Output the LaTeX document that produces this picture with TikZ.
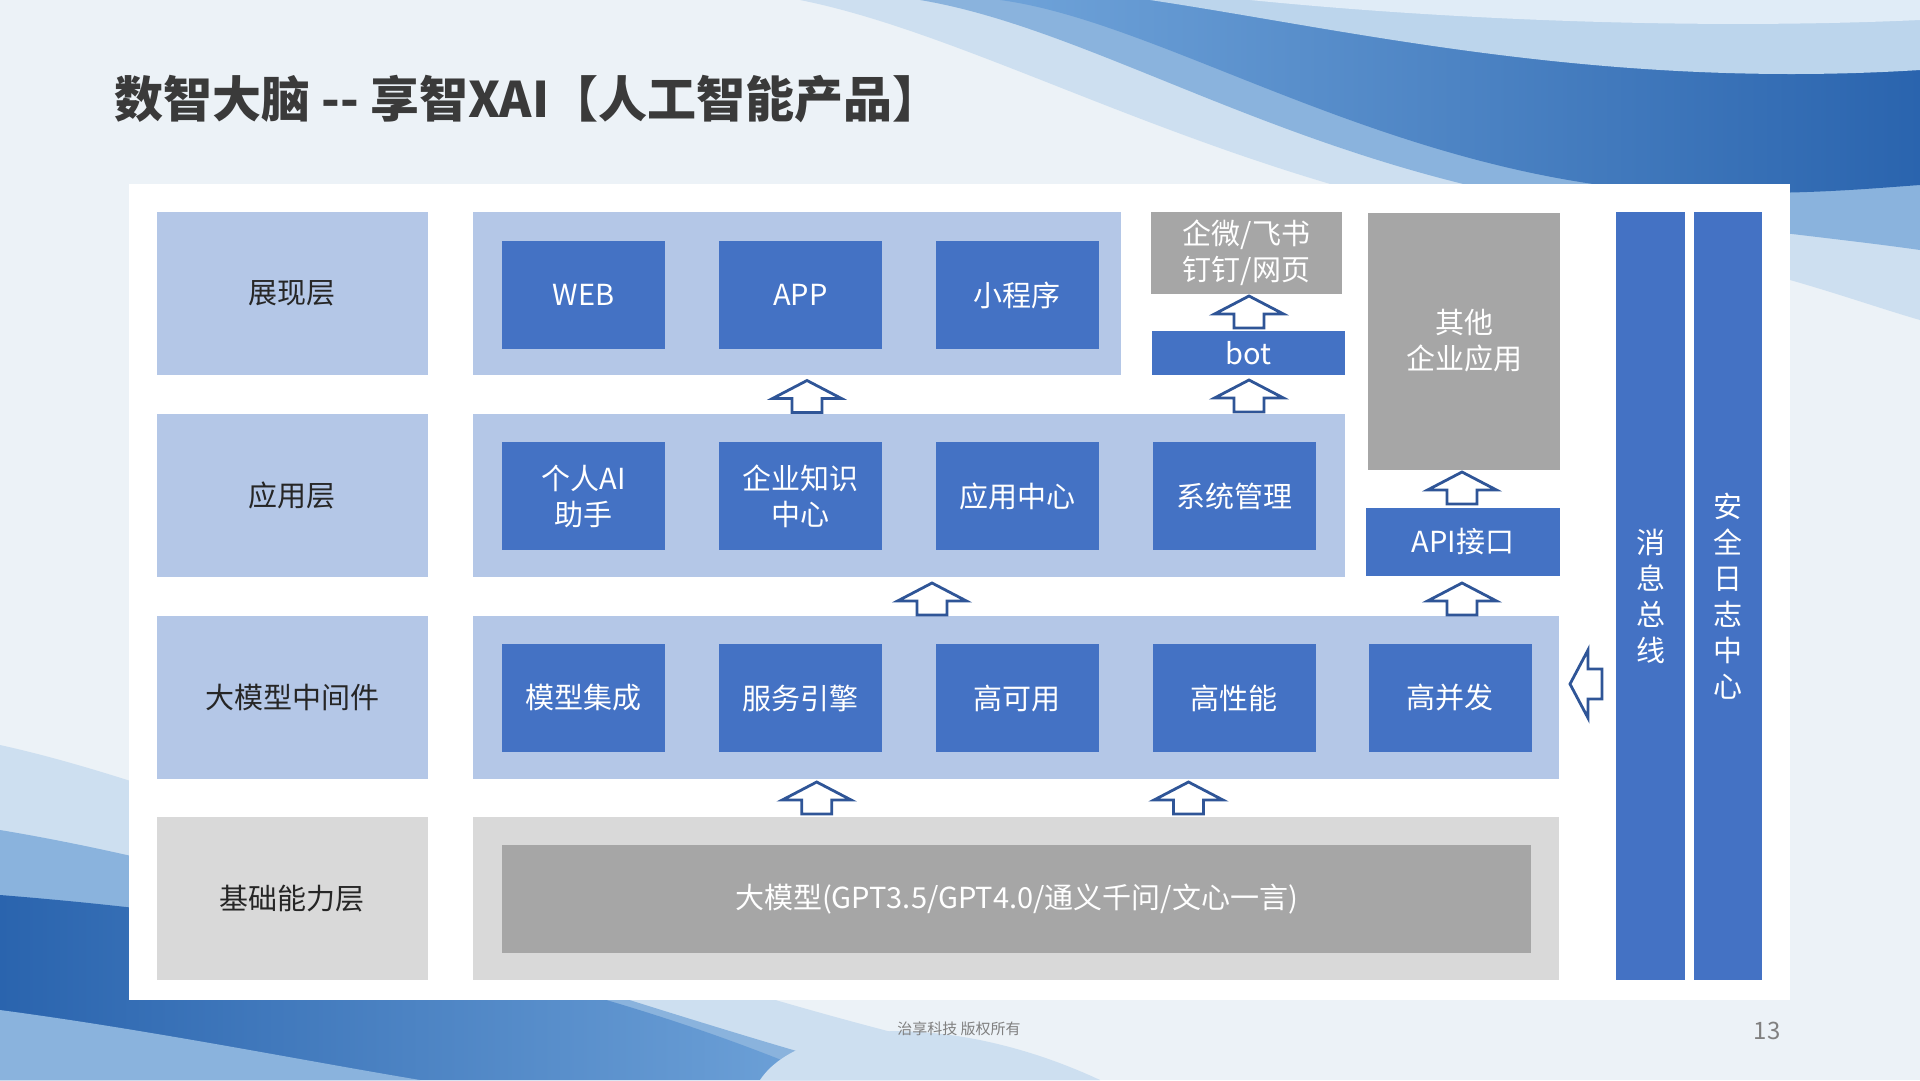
\documentclass[tikz,border=0pt]{standalone}
\usepackage{fontspec}
\setmainfont{Noto Sans CJK SC}
\definecolor{bgc}{RGB}{236,242,247}
\definecolor{lblue}{HTML}{B4C7E7}
\definecolor{mblue}{HTML}{4472C4}
\definecolor{lgray}{HTML}{D9D9D9}
\definecolor{mgray}{HTML}{A6A6A6}
\definecolor{arrc}{HTML}{2F5597}
\definecolor{titc}{HTML}{3A3A3A}
\definecolor{txtd}{HTML}{262626}
\definecolor{footc}{HTML}{808080}
\definecolor{wa}{HTML}{CDDFF0}
\definecolor{wb}{HTML}{8AB3DD}
\definecolor{wc}{HTML}{2A64AE}
\definecolor{wd}{HTML}{6FA3D9}
\definecolor{we}{HTML}{BCD5EC}
\definecolor{wf}{HTML}{E0ECF7}
\begin{document}
\begin{tikzpicture}[x=1pt,y=-1pt,
  base/.style={inner sep=0pt, outer sep=0pt, align=center, font=\fontsize{29}{36}\selectfont},
  lbl/.style={base, fill=lblue, minimum width=271pt, minimum height=163pt, text=txtd},
  lblg/.style={lbl, fill=lgray},
  band/.style={fill=lblue, minimum height=163pt, inner sep=0pt, outer sep=0pt},
  bbox/.style={base, fill=mblue, text=white, minimum width=163pt, minimum height=108pt},
  gbox/.style={base, fill=mgray, text=white},
  vbar/.style={base, fill=mblue, text=white, minimum width=68.5pt, minimum height=768pt},
  arrline/.style={draw=arrc, fill=white, line width=2.8pt, line join=miter},
  uparr/.pic={\path[arrline] (0,-16) -- (34.5,2) -- (15,2) -- (15,16) -- (-15,16) -- (-15,2) -- (-34.5,2) -- cycle;},
  leftarr/.pic={\path[arrline] (-16,0) -- (2,-34) -- (2,-15) -- (16,-15) -- (16,15) -- (2,15) -- (2,34) -- cycle;}
]
\useasboundingbox (0,0) rectangle (1920,1080);
\fill[bgc] (0,0) rectangle (1920,1080);
% background waves
\begin{scope}
\clip (0,0) rectangle (1920,1080);
\fill[wa] (800,0) .. controls (1000,40) and (1250,200) .. (1600,240) .. controls (1750,260) and (1850,300) .. (1920,320) -- (1920,0) -- cycle;
\fill[wb] (920,0) .. controls (1100,30) and (1300,170) .. (1600,210) .. controls (1750,230) and (1850,240) .. (1920,250) -- (1920,0) -- cycle;
\shade[left color=wd, right color=wc] (1000,0) .. controls (1150,20) and (1350,150) .. (1600,185) .. controls (1750,200) and (1850,190) .. (1920,185) -- (1920,0) -- cycle;
\fill[we] (1150,0) .. controls (1350,30) and (1600,90) .. (1920,70) -- (1920,0) -- cycle;
\fill[wf] (1250,0) .. controls (1450,20) and (1700,30) .. (1920,20) -- (1920,0) -- cycle;
\fill[wa] (0,745) .. controls (250,800) and (600,980) .. (1100,1080) -- (0,1080) -- cycle;
\fill[wb] (0,830) .. controls (300,880) and (600,1000) .. (900,1080) -- (0,1080) -- cycle;
\shade[left color=wc, right color=wd] (0,895) .. controls (250,915) and (550,960) .. (830,1080) -- (0,1080) -- cycle;
\fill[wb] (0,1010) .. controls (150,1030) and (300,1060) .. (420,1080) -- (0,1080) -- cycle;
\fill[wa] (760,1080) .. controls (800,1020) and (950,1010) .. (1100,1080) -- cycle;
\end{scope}
% title
\node[anchor=west, inner sep=0pt, text=titc, font=\fontsize{49}{56}\selectfont\bfseries] (title) at (114,99) {数智大脑 -{}- 享智XAI【人工智能产品】};
% white panel
\fill[white] (128.6,183.7) rectangle (1790,1000.4);
% layer labels
\node[lbl] (l1) at (292,293.5) {展现层};
\node[lbl] (l2) at (292,495.5) {应用层};
\node[lbl] (l3) at (292,697.5) {大模型中间件};
\node[lblg] (l4) at (292,898.5) {基础能力层};
% bands
\node[band, minimum width=648pt] (b1) at (796.5,293.5) {};
\node[band, minimum width=872pt] (b2) at (908.6,495.5) {};
\node[band, minimum width=1086pt] (b3) at (1015.8,697.5) {};
\node[band, fill=lgray, minimum width=1086pt] (b4) at (1015.8,898.5) {};
% row 1
\node[bbox] (web) at (583.5,295) {WEB};
\node[bbox] (app) at (800.3,295) {APP};
\node[bbox] (mini) at (1017,295) {小程序};
% row 2
\node[bbox] (pai) at (583.5,496) {个人AI\\助手};
\node[bbox] (kn) at (800.3,496) {企业知识\\中心};
\node[bbox] (appc) at (1017,496) {应用中心};
\node[bbox] (sys) at (1234,496) {系统管理};
% row 3
\node[bbox] (mi) at (583.5,698) {模型集成};
\node[bbox] (se) at (800.3,698) {服务引擎};
\node[bbox] (ha) at (1017,698) {高可用};
\node[bbox] (hp) at (1234,698) {高性能};
\node[bbox] (hc) at (1450,698) {高并发};
% row 4
\node[gbox, minimum width=1029pt, minimum height=108pt] (llm) at (1016.5,899) {大模型(GPT3.5/GPT4.0/通义千问/文心一言)};
% top right
\node[gbox, minimum width=191pt, minimum height=82pt] (im) at (1246.5,253) {企微/飞书\\钉钉/网页};
\node[base, fill=mblue, text=white, minimum width=193pt, minimum height=44pt] (bot) at (1248.5,353) {bot};
\node[gbox, minimum width=192pt, minimum height=257pt] (oth) at (1464,341) {其他\\企业应用};
\node[base, fill=mblue, text=white, minimum width=194pt, minimum height=68pt] (api) at (1463,542) {API接口};
% vertical bars
\node[vbar] (bus) at (1650.7,596) {消\\息\\总\\线};
\node[vbar] (sec) at (1727.8,596) {安\\全\\日\\志\\中\\心};
% block arrows
\pic at (807,396.5) {uparr};
\pic at (1249,312) {uparr};
\pic at (1249,396) {uparr};
\pic at (932,599) {uparr};
\pic at (1462,599) {uparr};
\pic at (1462,488) {uparr};
\pic at (816.7,798) {uparr};
\pic at (1188.5,798) {uparr};
\pic at (1586,684) {leftarr};
% footer
\node[inner sep=0pt, text=footc, font=\fontsize{15}{18}\selectfont] (foot) at (959,1029) {治享科技 版权所有};
\node[inner sep=0pt, text=footc, font=\fontsize{24}{28}\selectfont] (page) at (1767,1031) {13};
\end{tikzpicture}
\end{document}
